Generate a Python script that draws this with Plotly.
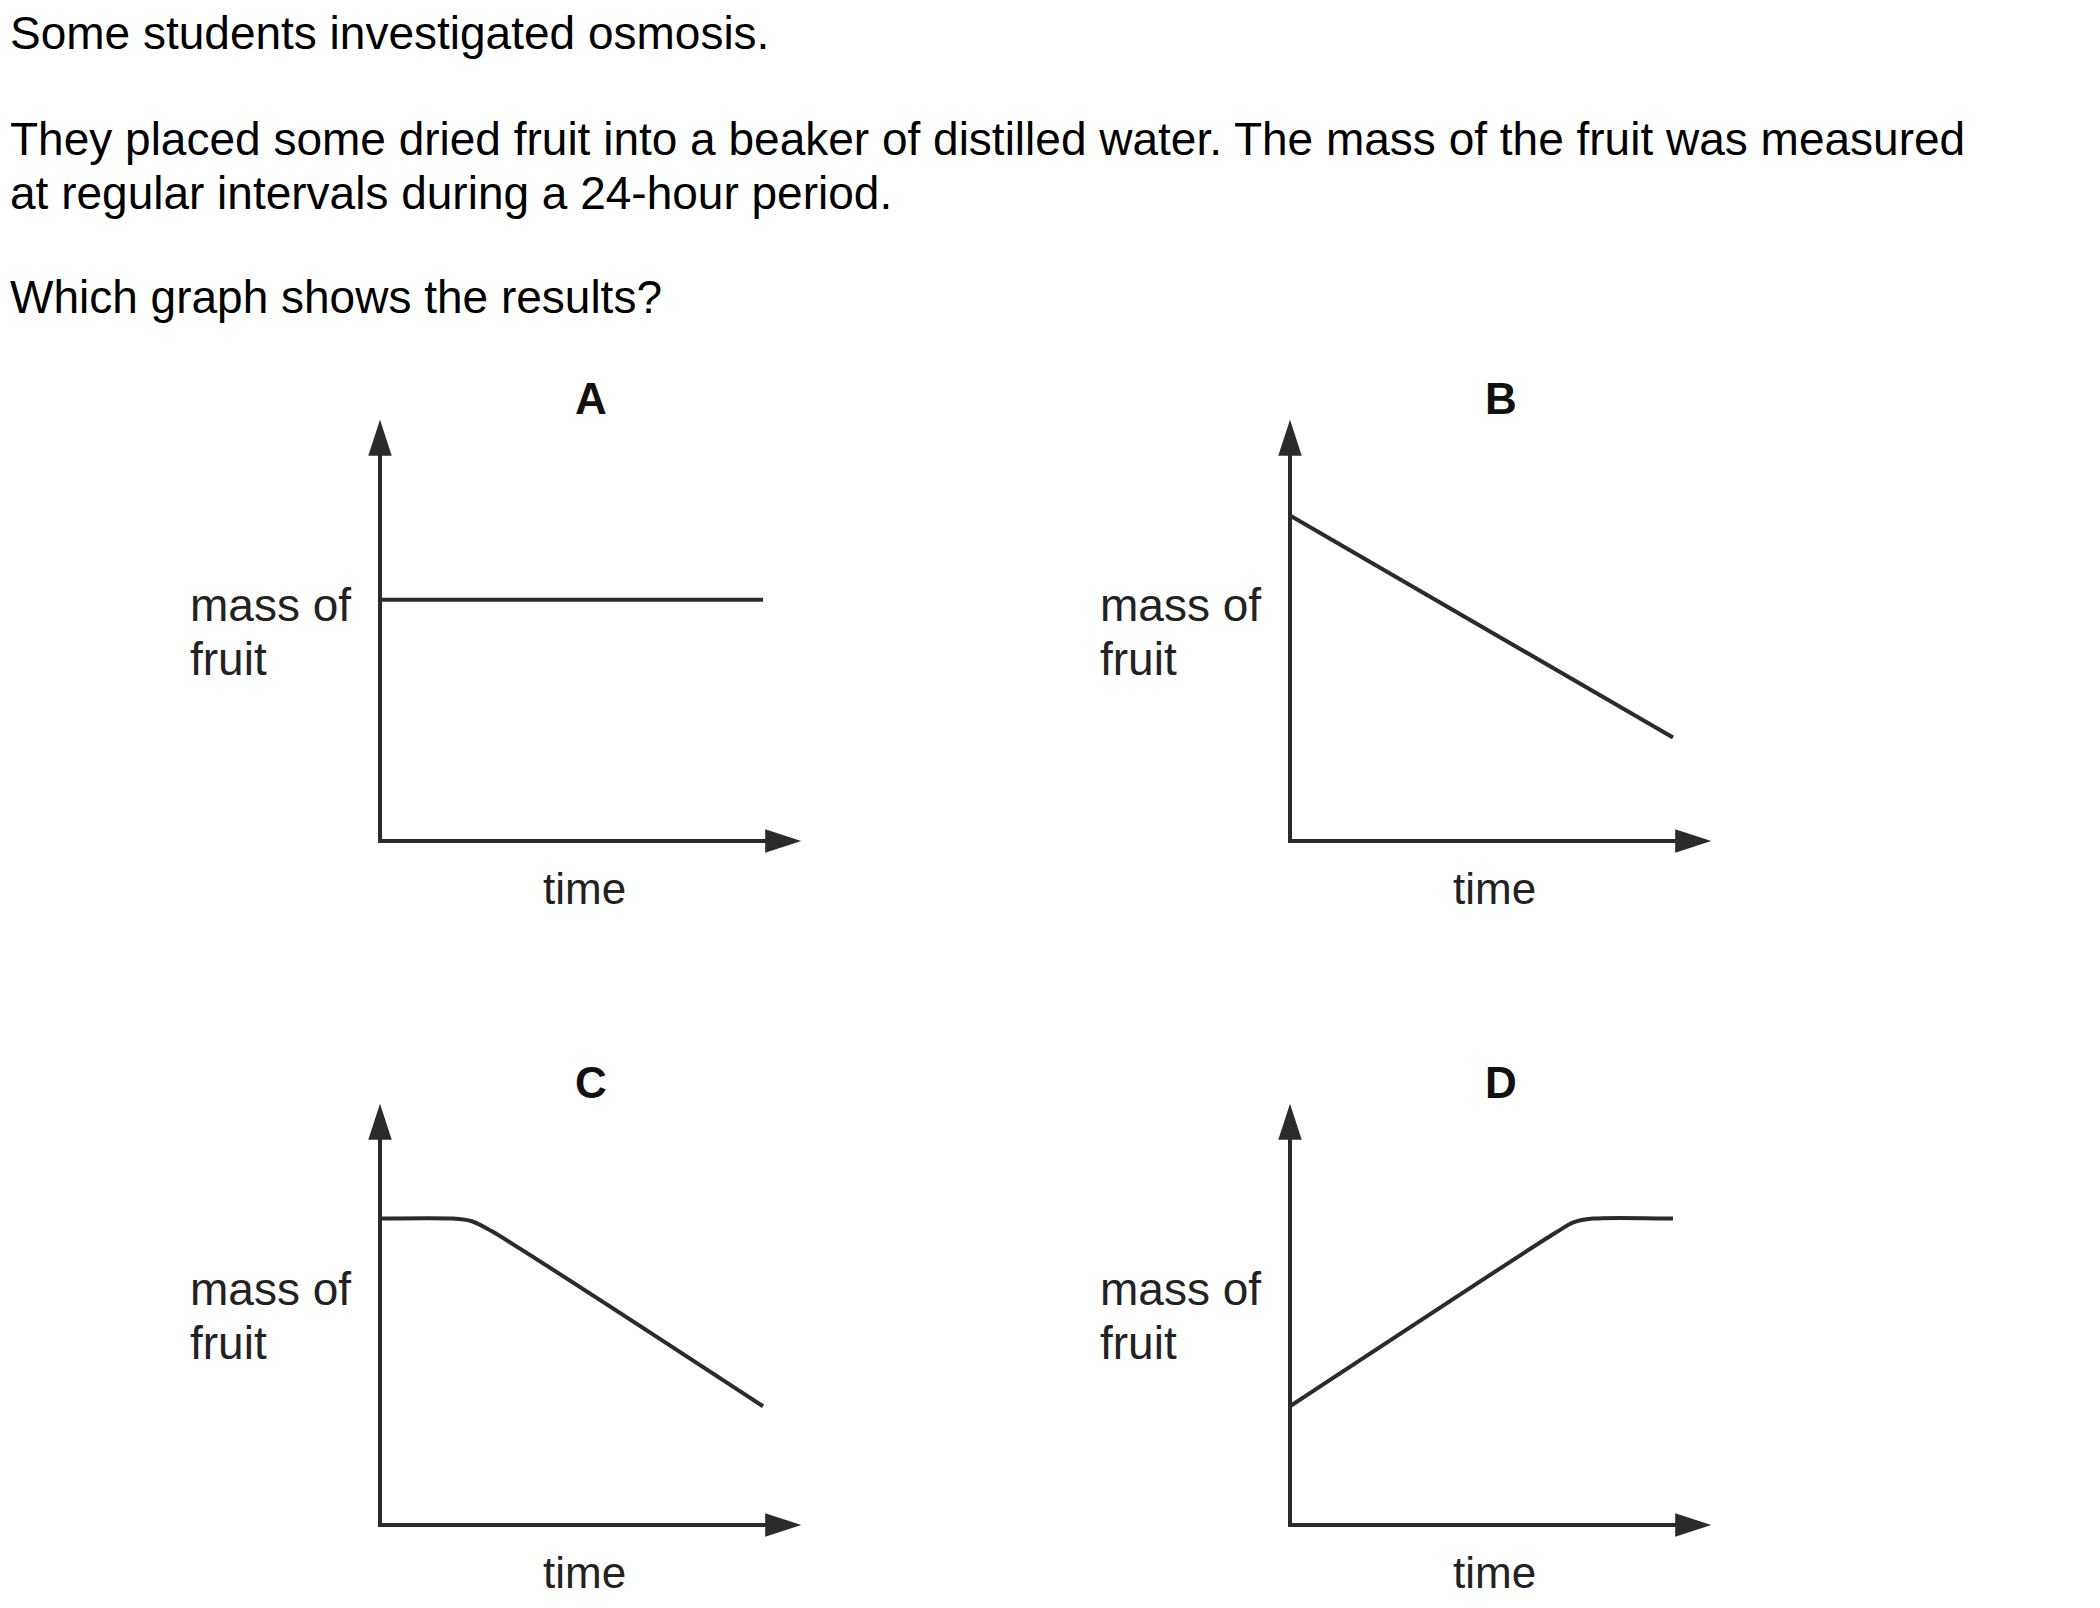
import plotly.graph_objects as go

# ---------------- data ----------------
question_lines = [
    "Some students investigated osmosis.",
    "They placed some dried fruit into a beaker of distilled water. The mass of the fruit was measured",
    "at regular intervals during a 24-hour period.",
    "Which graph shows the results?",
]
panel_letters = ["A", "B", "C", "D"]
y_label_lines = ["mass of", "fruit"]
x_label = "time"

time_A = [0, 10]
mass_A = [6.3, 6.3]
time_B = [0, 10]
mass_B = [8.5, 2.7]
time_C = [0, 1.9, 2.4, 2.9, 10]
mass_C = [8.0, 8.0, 7.93, 7.68, 3.1]
time_D = [0, 6.9, 7.4, 7.9, 10]
mass_D = [3.1, 7.61, 7.9, 8.0, 8.0]

series_time = [time_A, time_B, time_C, time_D]
series_mass = [mass_A, mass_B, mass_C, mass_D]

axis_tip = 11.0  # arrow tip position on both axes (data units)

# ---------------- layout helpers ----------------
W, H = 2100, 1608
OFF = 8                      # page body margin of the html page
PX = 38.3                    # pixels per data unit
XRANGE = [-5.5, 11.5]
YRANGE = [-2.0, 12.0]
origins = [(380, 841), (1290, 841), (380, 1525), (1290, 1525)]  # pixel origins in the page
question_y_px = [33, 139, 193, 297]

FONT = "Liberation Sans, Arial, Helvetica, sans-serif"
INK = "#2b2b2b"

fig = go.Figure()
layout_axes = {}

for i in range(4):
    ox, oy = origins[i]
    ox -= OFF
    oy -= OFF
    x0 = ox + XRANGE[0] * PX
    x1 = ox + XRANGE[1] * PX
    y_bot = oy - YRANGE[0] * PX
    y_top = oy - YRANGE[1] * PX
    sfx = "" if i == 0 else str(i + 1)
    layout_axes["xaxis" + sfx] = dict(domain=[x0 / W, x1 / W], range=XRANGE, visible=False,
                                      anchor="y" + sfx, fixedrange=True)
    layout_axes["yaxis" + sfx] = dict(domain=[1 - y_bot / H, 1 - y_top / H], range=YRANGE,
                                      visible=False, anchor="x" + sfx, fixedrange=True)
    xr, yr = "x" + sfx, "y" + sfx

    # axes lines
    fig.add_trace(go.Scatter(x=[0, 0, axis_tip - 0.3], y=[axis_tip - 0.3, 0, 0], mode="lines",
                             line=dict(color=INK, width=4), xaxis=xr, yaxis=yr,
                             cliponaxis=False, showlegend=False, hoverinfo="skip"))
    # arrow heads
    fig.add_trace(go.Scatter(x=[0, axis_tip], y=[axis_tip, 0], mode="markers",
                             marker=dict(symbol="arrow", size=38, angle=[0, 90], color=INK,
                                         line=dict(width=0)),
                             xaxis=xr, yaxis=yr, cliponaxis=False, showlegend=False,
                             hoverinfo="skip"))
    # data line
    shape = "spline" if len(series_time[i]) > 2 else "linear"
    fig.add_trace(go.Scatter(x=series_time[i], y=series_mass[i], mode="lines",
                             line=dict(color=INK, width=4, shape=shape, smoothing=0.8),
                             xaxis=xr, yaxis=yr, cliponaxis=False, showlegend=False,
                             hoverinfo="skip"))

    # panel letter
    fig.add_annotation(x=5.5, y=11.55, xref=xr, yref=yr, text="<b>%s</b>" % panel_letters[i],
                       showarrow=False, font=dict(family=FONT, size=44, color="#111"),
                       xanchor="center", yanchor="middle")
    # x label
    fig.add_annotation(x=5.35, y=-1.23, xref=xr, yref=yr, text=x_label, showarrow=False,
                       font=dict(family=FONT, size=44, color="#222"),
                       xanchor="center", yanchor="middle")
    # y label lines
    for j, t in enumerate(y_label_lines):
        fig.add_annotation(x=-5.02, y=6.16 - j * 1.41, xref=xr, yref=yr, text=t, showarrow=False,
                           font=dict(family=FONT, size=46, color="#222"),
                           xanchor="left", yanchor="middle")

for t, ypx in zip(question_lines, question_y_px):
    fig.add_annotation(x=0, y=1 - (ypx - OFF) / H, xref="paper", yref="paper", text=t,
                       showarrow=False, font=dict(family=FONT, size=46, color="#000"),
                       xanchor="left", yanchor="middle")

fig.update_layout(width=W, height=H, margin=dict(l=0, r=0, t=0, b=0),
                  paper_bgcolor="white", plot_bgcolor="white", showlegend=False,
                  **layout_axes)

fig.write_html("out.html", config={"displayModeBar": False})
